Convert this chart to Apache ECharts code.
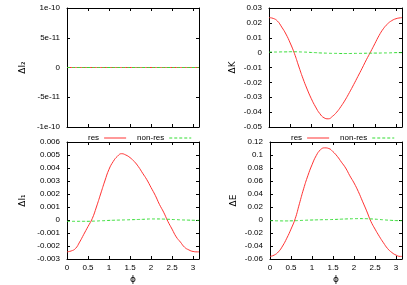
<!DOCTYPE html>
<html><head><meta charset="utf-8">
<script src="https://cdn.jsdelivr.net/npm/echarts@6/dist/echarts.min.js"></script>
<style>html,body{margin:0;padding:0;background:#fff}#c{width:407px;height:285px}</style>
</head><body><div id="c"></div>
<script>
const phi = [0,0.1,0.2,0.3,0.4,0.5,0.6,0.7,0.8,0.9,1.0,1.1,1.2,1.3,1.4,1.5,1.6,1.7,1.8,1.9,2.0,2.1,2.2,2.3,2.4,2.5,2.6,2.7,2.8,2.9,3.0,3.1,3.1416];
const xTicks = ['0','0.5','1','1.5','2','2.5','3'];

const dI2_res    = [0,0,0,0,0,0,0,0,0,0,0,0,0,0,0,0,0,0,0,0,0,0,0,0,0,0,0,0,0,0,0,0,0];
const dI2_nonres = [0,0,0,0,0,0,0,0,0,0,0,0,0,0,0,0,0,0,0,0,0,0,0,0,0,0,0,0,0,0,0,0,0];
const dI2_ticks  = ['-1e-10','-5e-11','0','5e-11','1e-10'];

const dK_res = [0.0235,0.0230,0.0212,0.0172,0.0125,0.0065,-0.0005,-0.0090,-0.0172,-0.0245,-0.0310,-0.0365,-0.0410,-0.0438,-0.0445,-0.0428,-0.0400,-0.0362,-0.0318,-0.0268,-0.0215,-0.0160,-0.0105,-0.0048,0.0005,0.0060,0.0115,0.0160,0.0193,0.0215,0.0228,0.0234,0.0235];
const dK_nonres = [0.0003,0.0004,0.0004,0.0005,0.0005,0.0006,0.0006,0.0005,0.0004,0.0003,0.0001,0.0000,-0.0002,-0.0003,-0.0004,-0.0005,-0.0005,-0.0006,-0.0006,-0.0006,-0.0005,-0.0005,-0.0005,-0.0004,-0.0004,-0.0003,-0.0003,-0.0002,-0.0002,-0.0001,0.0000,0.0000,0.0000];

const dI1_res = [-0.00245,-0.00238,-0.0022,-0.0017,-0.0011,-0.0005,0.0001,0.0010,0.0020,0.0030,0.0039,0.0045,0.0049,0.0051,0.0050,0.0048,0.0045,0.0041,0.0036,0.0031,0.0025,0.0019,0.0012,0.0006,-0.0001,-0.0007,-0.0013,-0.0017,-0.0021,-0.0023,-0.00242,-0.00245,-0.00245];
const dI1_nonres = [-0.0001,-0.0001,-0.0001,-0.0001,-0.0001,-0.0001,-0.00009,-0.00008,-0.00006,-0.00005,-0.00003,-0.00002,-0.00001,0.00000,0.00001,0.00002,0.00003,0.00004,0.00005,0.00007,0.00008,0.00008,0.00008,0.00007,0.00006,0.00004,0.00003,0.00001,0.00000,-0.00001,-0.00002,-0.00003,-0.00003];

const dE_res = [-0.056,-0.054,-0.049,-0.040,-0.028,-0.014,0.002,0.025,0.048,0.068,0.085,0.099,0.108,0.111,0.110,0.105,0.098,0.089,0.080,0.068,0.057,0.044,0.029,0.014,-0.002,-0.014,-0.025,-0.035,-0.044,-0.050,-0.054,-0.056,-0.056];
const dE_nonres = [-0.0010,-0.0012,-0.0013,-0.0014,-0.0014,-0.0013,-0.0011,-0.0008,-0.0005,-0.0002,0.0000,0.0002,0.0004,0.0005,0.0006,0.0008,0.0010,0.0013,0.0016,0.0018,0.0020,0.0021,0.0021,0.0020,0.0017,0.0013,0.0008,0.0003,-0.0002,-0.0006,-0.0009,-0.0010,-0.0010];

const seriesNames = ['res','non-res'];
const yNames = ['ΔI₂','ΔK','ΔI₁','ΔE'];

const pairs = a => phi.map((x,i)=>[x,a[i]]);
const FONT = 'Liberation Sans';
const RED = '#ff3333', GREEN = '#33dd33';

const grids = [
  {left:67, top:8, width:132, height:119},
  {left:269, top:8, width:133, height:119},
  {left:67, top:142, width:132, height:118},
  {left:270, top:142, width:132, height:118}
];
const yCfg = [
  {min:-1e-10, max:1e-10, interval:5e-11, fmt: v => dI2_ticks[Math.round((v+1e-10)/5e-11)]},
  {min:-0.05, max:0.03, interval:0.01},
  {min:-0.003, max:0.006, interval:0.001},
  {min:-0.06, max:0.12, interval:0.02}
];
const data = [[dI2_res,dI2_nonres],[dK_res,dK_nonres],[dI1_res,dI1_nonres],[dE_res,dE_nonres]];

const line = {show:true, onZero:false, lineStyle:{color:'#000', width:1}};
const tick = {show:true, inside:true, length:3, lineStyle:{color:'#000', width:1}};
const xAxis = [], yAxis = [], series = [];
grids.forEach((g,i)=>{
  const bottomRow = i>=2;
  xAxis.push({type:'value', gridIndex:i, position:'bottom', min:0, max:3.1416, interval:0.5,
    axisLine:line, axisTick:tick, splitLine:{show:false},
    axisLabel:{show:bottomRow, showMaxLabel:false, margin:5, color:'#000', fontFamily:FONT, fontSize:8,
      formatter: v => xTicks[Math.round(v/0.5)]},
    name: bottomRow ? 'ϕ' : '', nameLocation:'middle', nameGap:16,
    nameTextStyle:{color:'#000', fontFamily:'DejaVu Sans', fontSize:9}});
  xAxis.push({type:'value', gridIndex:i, position:'top', min:0, max:3.1416, interval:0.5,
    axisLine:line, axisTick:tick, splitLine:{show:false}, axisLabel:{show:false}});
  const c = yCfg[i];
  yAxis.push({type:'value', gridIndex:i, position:'left', min:c.min, max:c.max, interval:c.interval,
    axisLine:line, axisTick:tick, splitLine:{show:false},
    axisLabel:{margin:7, color:'#000', fontFamily:FONT, fontSize:8, formatter: c.fmt},
    name: yNames[i], nameLocation:'middle', nameRotate:90, nameGap: (i%2===0)?40:32,
    nameTextStyle:{color:'#000', fontFamily:'DejaVu Sans', fontSize:9}});
  yAxis.push({type:'value', gridIndex:i, position:'right', min:c.min, max:c.max, interval:c.interval,
    axisLine:line, axisTick:tick, splitLine:{show:false}, axisLabel:{show:false}});
  series.push({type:'line', name:seriesNames[0], xAxisIndex:2*i, yAxisIndex:2*i, data:pairs(data[i][0]),
    symbol:'none', smooth:true, lineStyle:{color:RED, width:1}, itemStyle:{color:RED}, animation:false});
  series.push({type:'line', name:seriesNames[1], xAxisIndex:2*i, yAxisIndex:2*i, data:pairs(data[i][1]),
    symbol:'none', smooth:true, lineStyle:{color:GREEN, width:1, type:[3,2]}, itemStyle:{color:GREEN}, animation:false});
});

const dashIcon = 'path://M0,0h3v1h-3zM5,0h3v1h-3zM10,0h3v1h-3zM15,0h3v1h-3zM20,0h2v1h-2z';
const legendBase = {orient:'horizontal', top:134, padding:0, width:140, itemWidth:22, itemHeight:1, itemGap:11, align:'right',
  selectedMode:false, textStyle:{color:'#000', fontFamily:FONT, fontSize:8},
  data:[{name:seriesNames[0], icon:'rect'}, {name:seriesNames[1], icon:dashIcon}]};
const legend = [Object.assign({}, legendBase, {left:88}), Object.assign({}, legendBase, {left:291})];

const chart = echarts.init(document.getElementById('c'), null, {renderer:'canvas'});
chart.setOption({animation:false, backgroundColor:'#fff', grid:grids, xAxis, yAxis, series, legend});
</script></body></html>
